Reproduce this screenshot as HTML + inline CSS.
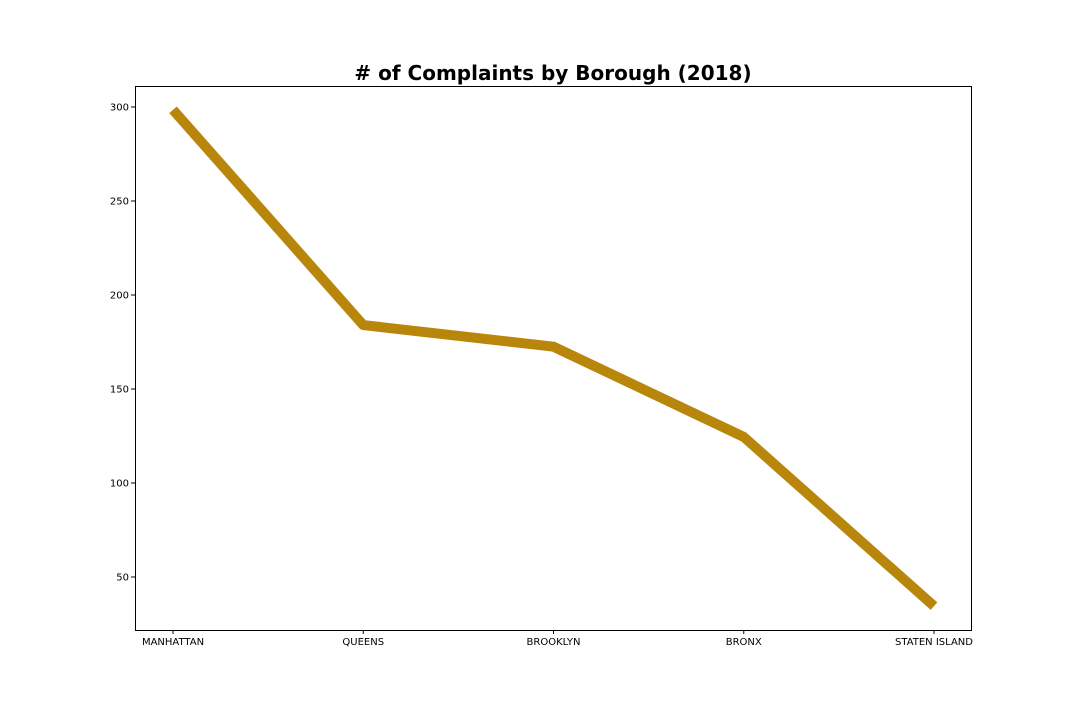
<!DOCTYPE html>
<html><head><meta charset="utf-8"><style>
body{margin:0;background:#fff;}
svg{display:block;font-family:"DejaVu Sans","Liberation Sans",sans-serif;}
</style></head><body>
<svg id="chart" width="1080" height="720">
<text x="553" y="80" text-anchor="middle" font-size="20" font-weight="bold"># of Complaints by Borough (2018)</text>
<rect x="135.5" y="86.5" width="836" height="544" fill="none" stroke="#000" stroke-width="1"/>
<g id="yaxis"></g>
<g id="xaxis"></g>
<g id="series"></g>
</svg>
<script>
const categories=["MANHATTAN","QUEENS","BROOKLYN","BRONX","STATEN ISLAND"];
const values=[298.5,184,172.5,124.5,34.5];
const yTicks=[50,100,150,200,250,300];
const NS="http://www.w3.org/2000/svg";
function xPos(i){return 173+i*190.25;}
function yPos(v){return 107+(300-v)*1.88;}
function mk(tag,attrs,parent){const e=document.createElementNS(NS,tag);for(const k in attrs)e.setAttribute(k,attrs[k]);parent.appendChild(e);return e;}
const ya=document.getElementById('yaxis'),xa=document.getElementById('xaxis'),sg=document.getElementById('series');
yTicks.forEach(t=>{const y=yPos(t);
const l=mk('line',{x1:131,x2:135,y1:y,y2:y,stroke:'#000'},ya);


const tx=mk('text',{x:129,y:y+3.5,'text-anchor':'end','font-size':10},ya);tx.textContent=t;

});
categories.forEach((c,i)=>{const x=xPos(i);
const l=mk('line',{x1:x,x2:x,y1:630,y2:634,stroke:'#000'},xa);


const tx=mk('text',{x:x,y:645,'text-anchor':'middle','font-size':10},xa);tx.textContent=c;

});
const pts=values.map((v,i)=>xPos(i)+','+yPos(v)).join(' ');
const pl=mk('polyline',{points:pts,fill:'none',stroke:'#b8860b','stroke-width':10,'stroke-linejoin':'round'},sg);


</script>
</body></html>
